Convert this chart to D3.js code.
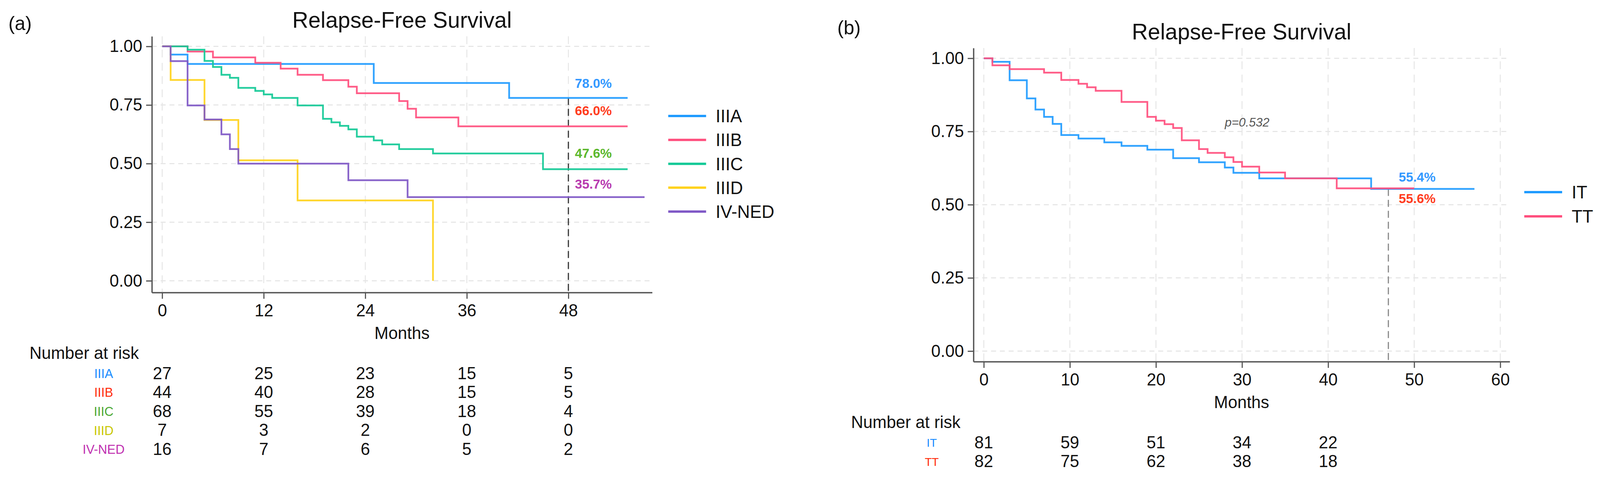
<!DOCTYPE html>
<html>
<head>
<meta charset="utf-8">
<script src="https://cdn.jsdelivr.net/npm/d3@7"></script>
<style>
  html, body { margin: 0; padding: 0; background: #fff; overflow: hidden; }
  svg { display: block; width: 100vw; height: 100vh; }
  svg text { font-family: "Liberation Sans", Arial, Helvetica, sans-serif; }
</style>
</head>
<body>
<svg id="chart" viewBox="0 0 4183 1224" preserveAspectRatio="none"></svg>
<script>
// ---- panel (a): stage groups ----
const groupsA = ["IIIA", "IIIB", "IIIC", "IIID", "IV-NED"];
const timeIIIA = [0, 1, 3, 25, 41, 55];
const survIIIA = [1, 0.965, 0.925, 0.844, 0.78, 0.78];
const timeIIIB = [0, 3, 6, 11, 14, 16, 19, 22, 23, 28, 29, 30, 35, 55];
const survIIIB = [1, 0.978, 0.953, 0.93, 0.905, 0.879, 0.856, 0.828, 0.80, 0.767, 0.734, 0.697, 0.659, 0.659];
const timeIIIC = [0, 3, 5, 6, 7, 8, 9, 11, 12, 13, 16, 19, 20, 21, 22, 23, 25, 26, 28, 32, 45, 55];
const survIIIC = [1, 0.986, 0.938, 0.912, 0.879, 0.866, 0.823, 0.81, 0.795, 0.78, 0.748, 0.691, 0.676, 0.661, 0.646, 0.615, 0.599, 0.582, 0.562, 0.543, 0.476, 0.476];
const timeIIID = [0, 1, 5, 9, 16, 32];
const survIIID = [1, 0.857, 0.686, 0.514, 0.343, 0];
const timeIVNED = [0, 1, 3, 5, 7, 8, 9, 22, 29, 57];
const survIVNED = [1, 0.937, 0.748, 0.688, 0.625, 0.562, 0.5, 0.429, 0.357, 0.357];
const ticksXA = [0, 12, 24, 36, 48];
const riskIIIA = [27, 25, 23, 15, 5];
const riskIIIB = [44, 40, 28, 15, 5];
const riskIIIC = [68, 55, 39, 18, 4];
const riskIIID = [7, 3, 2, 0, 0];
const riskIVNED = [16, 7, 6, 5, 2];
const pctTextA = ["78.0%", "66.0%", "47.6%", "35.7%"];
const pctValueA = [0.78, 0.66, 0.476, 0.357];

// ---- panel (b): treatment groups ----
const groupsB = ["IT", "TT"];
const timeIT = [0, 1, 3, 5, 6, 7, 8, 9, 11, 14, 16, 19, 22, 25, 28, 29, 32, 45, 57];
const survIT = [1, 0.988, 0.925, 0.863, 0.825, 0.80, 0.776, 0.738, 0.726, 0.713, 0.701, 0.688, 0.659, 0.645, 0.627, 0.609, 0.59, 0.554, 0.554];
const timeTT = [0, 1, 3, 7, 9, 11, 12, 13, 16, 19, 20, 21, 22, 23, 25, 26, 28, 29, 30, 32, 35, 41, 50];
const survTT = [1, 0.976, 0.963, 0.951, 0.926, 0.913, 0.901, 0.889, 0.851, 0.80, 0.787, 0.775, 0.762, 0.72, 0.69, 0.677, 0.662, 0.646, 0.63, 0.61, 0.59, 0.556, 0.556];
const ticksXB = [0, 10, 20, 30, 40, 50, 60];
const riskTicksB = [0, 10, 20, 30, 40];
const riskIT = [81, 59, 51, 34, 22];
const riskTT = [82, 75, 62, 38, 18];
const pctTextB = ["55.4%", "55.6%"];
const pctValueB = [0.554, 0.556];

const ticksY = [0, 0.25, 0.5, 0.75, 1];

const svg = d3.select("#chart");

function zip(t, s) { return t.map((d, i) => [d, s[i]]); }

function drawPanel(o) {
  const g = svg.append("g");
  const x = d3.scaleLinear().domain(o.xDomain).range(o.xRange);
  const y = d3.scaleLinear().domain(o.yDomain).range(o.yRange);
  const bottom = o.yRange[0], top = o.yRange[1];

  // dashed grid
  g.append("g").selectAll("line").data(ticksY).join("line")
    .attr("x1", o.xRange[0]).attr("x2", o.xRange[1])
    .attr("y1", d => y(d)).attr("y2", d => y(d))
    .attr("stroke", "#e3e3e3").attr("stroke-width", 2.5)
    .attr("stroke-dasharray", "13,10");
  g.append("g").selectAll("line").data(o.xTicks).join("line")
    .attr("x1", d => x(d)).attr("x2", d => x(d))
    .attr("y1", top).attr("y2", bottom)
    .attr("stroke", "#e6e6e6").attr("stroke-width", 2.5)
    .attr("stroke-dasharray", "20,14");

  // axes
  const ya = g.append("g").attr("transform", `translate(${o.xRange[0]},0)`)
    .call(d3.axisLeft(y).tickValues(ticksY).tickFormat(d3.format(".2f"))
      .tickSize(15).tickSizeOuter(0).tickPadding(10));
  const xa = g.append("g").attr("transform", `translate(0,${bottom})`)
    .call(d3.axisBottom(x).tickValues(o.xTicks)
      .tickSize(16).tickSizeOuter(0).tickPadding(14));
  [ya, xa].forEach(a => {
    a.select(".domain").attr("stroke", "#555").attr("stroke-width", 3.5);
    a.selectAll(".tick line").attr("stroke", "#555").attr("stroke-width", 3);
    a.selectAll(".tick text").attr("font-size", 44).attr("fill", "#111")
      .style("font-family", "'Liberation Sans', Arial, sans-serif");
  });

  // reference line at the landmark month
  g.append("line")
    .attr("x1", x(o.refMonth)).attr("x2", x(o.refMonth))
    .attr("y1", y(o.refValue)).attr("y2", bottom - 4)
    .attr("stroke", o.refColor).attr("stroke-width", 3)
    .attr("stroke-dasharray", "18,10");

  // survival curves
  const line = d3.line().x(d => x(d[0])).y(d => y(d[1])).curve(d3.curveStepAfter);
  g.append("g").selectAll("path").data(o.series).join("path")
    .attr("d", d => line(d))
    .attr("fill", "none")
    .attr("stroke", (d, i) => o.colors[i])
    .attr("stroke-width", 4.5)
    .attr("stroke-opacity", 0.92);

  // percentage labels
  g.append("g").selectAll("text").data(o.pctText).join("text")
    .attr("x", x(o.pctMonth) + o.pctDx)
    .attr("y", (d, i) => y(o.pctValue[i]) + o.pctDy[i])
    .attr("dominant-baseline", "middle")
    .attr("font-size", 34).attr("font-weight", "bold")
    .attr("fill", (d, i) => o.pctColors[i])
    .text(d => d);

  // title + panel label
  g.append("text")
    .attr("x", (o.xRange[0] + o.xRange[1]) / 2).attr("y", top - 22)
    .attr("text-anchor", "middle").attr("font-size", 58).attr("fill", "#111")
    .text("Relapse-Free Survival");
  g.append("text")
    .attr("x", o.panelX).attr("y", o.panelY)
    .attr("font-size", 50).attr("fill", "#111")
    .text(o.panel);

  // x axis title
  g.append("text")
    .attr("x", (o.xRange[0] + o.xRange[1]) / 2).attr("y", bottom + 107)
    .attr("text-anchor", "middle").attr("dominant-baseline", "middle")
    .attr("font-size", 44).attr("fill", "#111")
    .text("Months");

  // legend
  const leg = g.append("g").selectAll("g").data(o.groups).join("g")
    .attr("transform", (d, i) => `translate(${o.legX},${o.legY + i * o.legStep})`);
  leg.append("line")
    .attr("x1", 0).attr("x2", 99)
    .attr("stroke", (d, i) => o.colors[i]).attr("stroke-width", 6);
  leg.append("text")
    .attr("x", 124).attr("y", 0).attr("dy", "0.35em")
    .attr("font-size", 46).attr("fill", "#111")
    .text(d => d);

  // number at risk table
  g.append("text")
    .attr("x", o.xRange[0] - 320).attr("y", bottom + 158)
    .attr("dominant-baseline", "middle").attr("font-size", 44).attr("fill", "#111")
    .text("Number at risk");
  const rows = g.append("g").selectAll("g").data(o.risk).join("g")
    .attr("transform", (d, i) => `translate(0,${bottom + 210 + i * 48.6})`);
  rows.append("text")
    .attr("x", o.riskLabelX).attr("text-anchor", "middle")
    .attr("dominant-baseline", "middle")
    .attr("font-size", o.riskLabelSize)
    .attr("fill", (d, i) => o.riskColors[i])
    .text((d, i) => o.groups[i]);
  rows.selectAll("text.n").data(d => d).join("text")
    .attr("class", "n")
    .attr("x", (d, j) => x(o.riskTicks[j]))
    .attr("text-anchor", "middle").attr("dominant-baseline", "middle")
    .attr("font-size", 44).attr("fill", "#111")
    .text(d => d);

  return { g, x, y };
}

drawPanel({
  panel: "(a)", panelX: 22, panelY: 77,
  xDomain: [-1.22, 57.9], xRange: [397, 1705],
  yDomain: [-0.05, 1.043], yRange: [749, 93],
  xTicks: ticksXA, riskTicks: ticksXA,
  groups: groupsA,
  series: [zip(timeIIIA, survIIIA), zip(timeIIIB, survIIIB), zip(timeIIIC, survIIIC),
           zip(timeIIID, survIIID), zip(timeIVNED, survIVNED)],
  colors: ["#1f9bff", "#ff4f7e", "#12c996", "#ffd21c", "#7f58c6"],
  refMonth: 48, refValue: 0.78, refColor: "#333",
  pctText: pctTextA, pctValue: pctValueA, pctMonth: 48, pctDx: 17,
  pctDy: [-35, -37, -38, -31],
  pctColors: ["#3399ff", "#ff3d1f", "#5cb82e", "#b83cb0"],
  legX: 1747, legY: 297, legStep: 61.2,
  risk: [riskIIIA, riskIIIB, riskIIIC, riskIIID, riskIVNED],
  riskLabelX: 271, riskLabelSize: 33,
  riskColors: ["#1a8cff", "#ff2b0a", "#4aa832", "#c9c700", "#c030b0"]
});

const b = drawPanel({
  panel: "(b)", panelX: 2189, panelY: 88,
  xDomain: [-1.2, 61.1], xRange: [2545, 3947],
  yDomain: [-0.036, 1.035], yRange: [926, 123],
  xTicks: ticksXB, riskTicks: riskTicksB,
  groups: groupsB,
  series: [zip(timeIT, survIT), zip(timeTT, survTT)],
  colors: ["#1f9bff", "#ff4f7e"],
  refMonth: 47, refValue: 0.554, refColor: "#888",
  pctText: pctTextB, pctValue: pctValueB, pctMonth: 47, pctDx: 27,
  pctDy: [-28, 29],
  pctColors: ["#3399ff", "#ff3d1f"],
  legX: 3985, legY: 492, legStep: 62,
  risk: [riskIT, riskTT],
  riskLabelX: 2436, riskLabelSize: 30,
  riskColors: ["#1a8cff", "#ff2b0a"]
});

// log-rank p value
b.g.append("text")
  .attr("x", b.x(28)).attr("y", b.y(0.778))
  .attr("dominant-baseline", "middle")
  .attr("font-size", 32).attr("font-style", "italic").attr("fill", "#555")
  .text("p=0.532");
</script>
</body>
</html>
